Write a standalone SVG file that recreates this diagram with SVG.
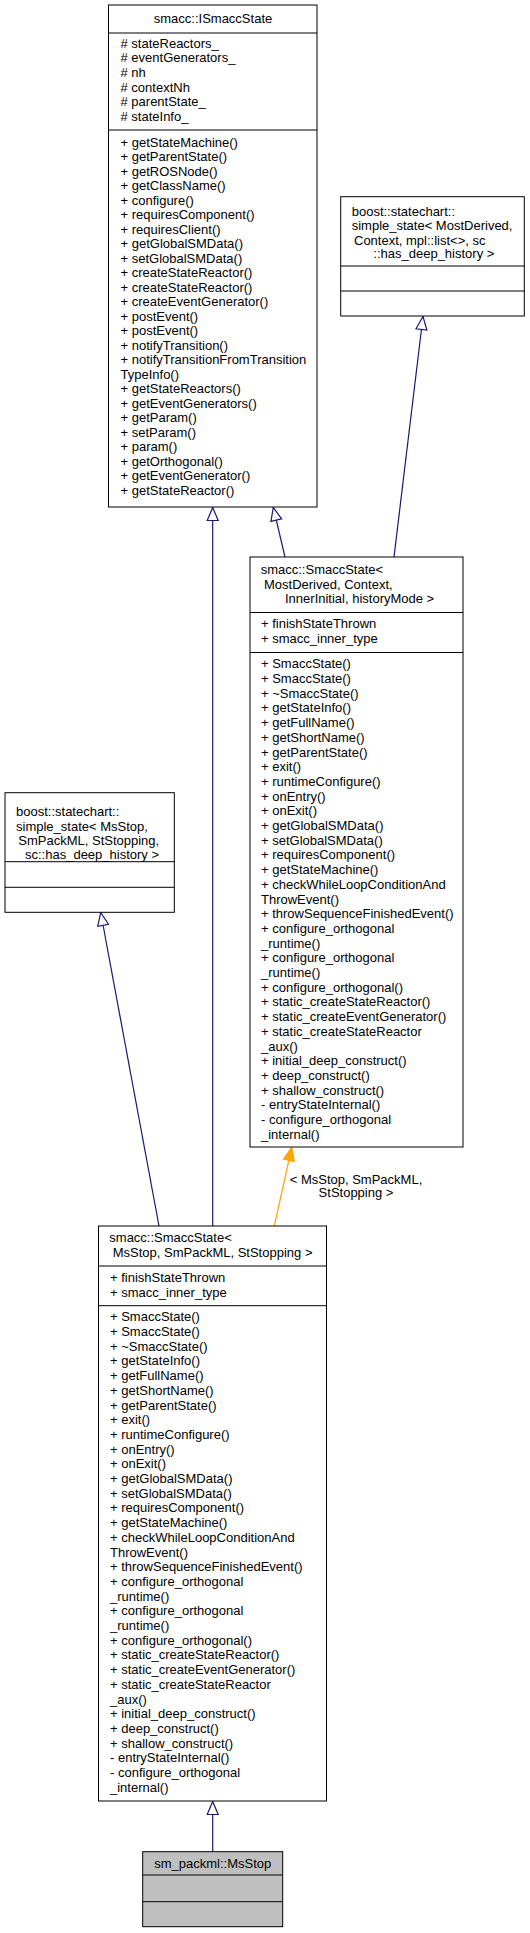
<svg xmlns="http://www.w3.org/2000/svg" width="530" height="1933" viewBox="0 0 530 1933">
<style>
text{font-family:"Liberation Sans",Arial,Helvetica,sans-serif;font-size:13px;fill:#000}
.box{fill:#fff;stroke:#000;stroke-width:1}
.main{fill:#bfbfbf;stroke:#000;stroke-width:1}
.sep{stroke:#000;stroke-width:1;fill:none}
.inh{stroke:#191970;stroke-width:1.2;fill:none;marker-end:url(#hollow)}
.tpl{stroke:#ffa500;stroke-width:1.2;fill:none;marker-end:url(#solid)}
.mid{text-anchor:middle}
</style>
<defs>
<marker id="hollow" markerUnits="userSpaceOnUse" markerWidth="16" markerHeight="14" refX="14" refY="6.5" orient="auto">
<path d="M1,1 L14,6.5 L1,12 Z" fill="#fff" stroke="#191970" stroke-width="1.2"/>
</marker>
<marker id="solid" markerUnits="userSpaceOnUse" markerWidth="16" markerHeight="14" refX="14" refY="6.5" orient="auto">
<path d="M1,1 L14,6.5 L1,12 Z" fill="#ffa500" stroke="#ffa500" stroke-width="1.2"/>
</marker>
</defs>

<g id="connectors">
<line class="inh" x1="285" y1="557" x2="273.3" y2="507.5"/>
<line class="inh" x1="212.7" y1="1226" x2="212.7" y2="507.5"/>
<line class="inh" x1="394" y1="557" x2="423" y2="316.5"/>
<line class="inh" x1="159" y1="1226" x2="100.7" y2="912.5"/>
<line class="tpl" x1="274.3" y1="1226" x2="291.7" y2="1147.5"/>
<line class="inh" x1="212.7" y1="1851.7" x2="212.7" y2="1801.5"/>
<text class="mid" x="356" y="1183.5">&lt; MsStop, SmPackML,</text>
<text class="mid" x="356" y="1197">StStopping &gt;</text>
</g>

<g id="ISmaccState">
<rect class="box" x="108.5" y="5" width="208.5" height="502"/>
<line class="sep" x1="108.5" y1="33" x2="317" y2="33"/>
<line class="sep" x1="108.5" y1="130" x2="317" y2="130"/>
<text class="mid" x="213" y="22.5">smacc::ISmaccState</text>
<text x="120.5">
<tspan x="120.5" y="47.5"># stateReactors_</tspan>
<tspan x="120.5" y="62.2"># eventGenerators_</tspan>
<tspan x="120.5" y="76.8"># nh</tspan>
<tspan x="120.5" y="91.5"># contextNh</tspan>
<tspan x="120.5" y="106.1"># parentState_</tspan>
<tspan x="120.5" y="120.8"># stateInfo_</tspan>
</text>
<text x="120.5">
<tspan x="120.5" y="146.7">+ getStateMachine()</tspan>
<tspan x="120.5" y="161.2">+ getParentState()</tspan>
<tspan x="120.5" y="175.7">+ getROSNode()</tspan>
<tspan x="120.5" y="190.2">+ getClassName()</tspan>
<tspan x="120.5" y="204.7">+ configure()</tspan>
<tspan x="120.5" y="219.2">+ requiresComponent()</tspan>
<tspan x="120.5" y="233.7">+ requiresClient()</tspan>
<tspan x="120.5" y="248.2">+ getGlobalSMData()</tspan>
<tspan x="120.5" y="262.7">+ setGlobalSMData()</tspan>
<tspan x="120.5" y="277.2">+ createStateReactor()</tspan>
<tspan x="120.5" y="291.7">+ createStateReactor()</tspan>
<tspan x="120.5" y="306.2">+ createEventGenerator()</tspan>
<tspan x="120.5" y="320.7">+ postEvent()</tspan>
<tspan x="120.5" y="335.2">+ postEvent()</tspan>
<tspan x="120.5" y="349.7">+ notifyTransition()</tspan>
<tspan x="120.5" y="364.2">+ notifyTransitionFromTransition</tspan>
<tspan x="120.5" y="378.7">TypeInfo()</tspan>
<tspan x="120.5" y="393.2">+ getStateReactors()</tspan>
<tspan x="120.5" y="407.7">+ getEventGenerators()</tspan>
<tspan x="120.5" y="422.2">+ getParam()</tspan>
<tspan x="120.5" y="436.7">+ setParam()</tspan>
<tspan x="120.5" y="451.2">+ param()</tspan>
<tspan x="120.5" y="465.7">+ getOrthogonal()</tspan>
<tspan x="120.5" y="480.2">+ getEventGenerator()</tspan>
<tspan x="120.5" y="494.7">+ getStateReactor()</tspan>
</text>
</g>

<g id="BoostSimpleStateGeneric">
<rect class="box" x="340.7" y="196.7" width="183.6" height="119.3"/>
<line class="sep" x1="340.7" y1="266" x2="524.3" y2="266"/>
<line class="sep" x1="340.7" y1="291" x2="524.3" y2="291"/>
<text>
<tspan x="351.7" y="215.5">boost::statechart::</tspan>
<tspan x="351.7" y="230.3">simple_state&lt; MostDerived,</tspan>
<tspan x="354" y="244.5">Context, mpl::list&lt;&gt;, sc</tspan>
<tspan x="373.3" y="258">::has_deep_history &gt;</tspan>
</text>
</g>

<g id="SmaccStateGeneric">
<rect class="box" x="250" y="557" width="213" height="590"/>
<line class="sep" x1="250" y1="612.5" x2="463" y2="612.5"/>
<line class="sep" x1="250" y1="652.5" x2="463" y2="652.5"/>
<text>
<tspan x="260.7" y="574">smacc::SmaccState&lt;</tspan>
<tspan x="264" y="589">MostDerived, Context,</tspan>
<tspan x="285" y="603.3">InnerInitial, historyMode &gt;</tspan>
</text>
<text>
<tspan x="261" y="628.3">+ finishStateThrown</tspan>
<tspan x="261" y="642.6">+ smacc_inner_type</tspan>
</text>
<text>
<tspan x="261" y="668.3">+ SmaccState()</tspan>
<tspan x="261" y="683">+ SmaccState()</tspan>
<tspan x="261" y="697.7">+ ~SmaccState()</tspan>
<tspan x="261" y="712.4">+ getStateInfo()</tspan>
<tspan x="261" y="727.1">+ getFullName()</tspan>
<tspan x="261" y="741.8">+ getShortName()</tspan>
<tspan x="261" y="756.5">+ getParentState()</tspan>
<tspan x="261" y="771.2">+ exit()</tspan>
<tspan x="261" y="785.9">+ runtimeConfigure()</tspan>
<tspan x="261" y="800.6">+ onEntry()</tspan>
<tspan x="261" y="815.3">+ onExit()</tspan>
<tspan x="261" y="830">+ getGlobalSMData()</tspan>
<tspan x="261" y="844.7">+ setGlobalSMData()</tspan>
<tspan x="261" y="859.4">+ requiresComponent()</tspan>
<tspan x="261" y="874.1">+ getStateMachine()</tspan>
<tspan x="261" y="888.8">+ checkWhileLoopConditionAnd</tspan>
<tspan x="261" y="903.5">ThrowEvent()</tspan>
<tspan x="261" y="918.2">+ throwSequenceFinishedEvent()</tspan>
<tspan x="261" y="932.9">+ configure_orthogonal</tspan>
<tspan x="261" y="947.6">_runtime()</tspan>
<tspan x="261" y="962.3">+ configure_orthogonal</tspan>
<tspan x="261" y="977">_runtime()</tspan>
<tspan x="261" y="991.7">+ configure_orthogonal()</tspan>
<tspan x="261" y="1006.4">+ static_createStateReactor()</tspan>
<tspan x="261" y="1021.1">+ static_createEventGenerator()</tspan>
<tspan x="261" y="1035.8">+ static_createStateReactor</tspan>
<tspan x="261" y="1050.5">_aux()</tspan>
<tspan x="261" y="1065.2">+ initial_deep_construct()</tspan>
<tspan x="261" y="1079.9">+ deep_construct()</tspan>
<tspan x="261" y="1094.6">+ shallow_construct()</tspan>
<tspan x="261" y="1109.3">- entryStateInternal()</tspan>
<tspan x="261" y="1124">- configure_orthogonal</tspan>
<tspan x="261" y="1138.7">_internal()</tspan>
</text>
</g>

<g id="BoostSimpleStateMsStop">
<rect class="box" x="5" y="792.7" width="169.3" height="119.6"/>
<line class="sep" x1="5" y1="861.7" x2="174.3" y2="861.7"/>
<line class="sep" x1="5" y1="887.3" x2="174.3" y2="887.3"/>
<text>
<tspan x="16" y="816">boost::statechart::</tspan>
<tspan x="16" y="830.5">simple_state&lt; MsStop,</tspan>
<tspan x="18.3" y="845">SmPackML, StStopping,</tspan>
<tspan x="25" y="859">sc::has_deep_history &gt;</tspan>
</text>
</g>

<g id="SmaccStateMsStop">
<rect class="box" x="98.5" y="1226" width="228" height="575"/>
<line class="sep" x1="98.5" y1="1266" x2="326.5" y2="1266"/>
<line class="sep" x1="98.5" y1="1305.7" x2="326.5" y2="1305.7"/>
<text>
<tspan x="109.3" y="1242.3">smacc::SmaccState&lt;</tspan>
<tspan x="112.7" y="1256.7">MsStop, SmPackML, StStopping &gt;</tspan>
</text>
<text>
<tspan x="110" y="1281.7">+ finishStateThrown</tspan>
<tspan x="110" y="1296.5">+ smacc_inner_type</tspan>
</text>
<text>
<tspan x="110" y="1321.3">+ SmaccState()</tspan>
<tspan x="110" y="1336">+ SmaccState()</tspan>
<tspan x="110" y="1350.7">+ ~SmaccState()</tspan>
<tspan x="110" y="1365.4">+ getStateInfo()</tspan>
<tspan x="110" y="1380.1">+ getFullName()</tspan>
<tspan x="110" y="1394.8">+ getShortName()</tspan>
<tspan x="110" y="1409.5">+ getParentState()</tspan>
<tspan x="110" y="1424.2">+ exit()</tspan>
<tspan x="110" y="1438.9">+ runtimeConfigure()</tspan>
<tspan x="110" y="1453.6">+ onEntry()</tspan>
<tspan x="110" y="1468.3">+ onExit()</tspan>
<tspan x="110" y="1483">+ getGlobalSMData()</tspan>
<tspan x="110" y="1497.7">+ setGlobalSMData()</tspan>
<tspan x="110" y="1512.4">+ requiresComponent()</tspan>
<tspan x="110" y="1527.1">+ getStateMachine()</tspan>
<tspan x="110" y="1541.8">+ checkWhileLoopConditionAnd</tspan>
<tspan x="110" y="1556.5">ThrowEvent()</tspan>
<tspan x="110" y="1571.2">+ throwSequenceFinishedEvent()</tspan>
<tspan x="110" y="1585.9">+ configure_orthogonal</tspan>
<tspan x="110" y="1600.6">_runtime()</tspan>
<tspan x="110" y="1615.3">+ configure_orthogonal</tspan>
<tspan x="110" y="1630">_runtime()</tspan>
<tspan x="110" y="1644.7">+ configure_orthogonal()</tspan>
<tspan x="110" y="1659.4">+ static_createStateReactor()</tspan>
<tspan x="110" y="1674.1">+ static_createEventGenerator()</tspan>
<tspan x="110" y="1688.8">+ static_createStateReactor</tspan>
<tspan x="110" y="1703.5">_aux()</tspan>
<tspan x="110" y="1718.2">+ initial_deep_construct()</tspan>
<tspan x="110" y="1732.9">+ deep_construct()</tspan>
<tspan x="110" y="1747.6">+ shallow_construct()</tspan>
<tspan x="110" y="1762.3">- entryStateInternal()</tspan>
<tspan x="110" y="1777">- configure_orthogonal</tspan>
<tspan x="110" y="1791.7">_internal()</tspan>
</text>
</g>

<g id="MsStop">
<rect class="main" x="142.7" y="1851.7" width="140" height="75"/>
<line class="sep" x1="142.7" y1="1875" x2="282.7" y2="1875"/>
<line class="sep" x1="142.7" y1="1901.7" x2="282.7" y2="1901.7"/>
<text class="mid" x="212.7" y="1867.5">sm_packml::MsStop</text>
</g>
</svg>
